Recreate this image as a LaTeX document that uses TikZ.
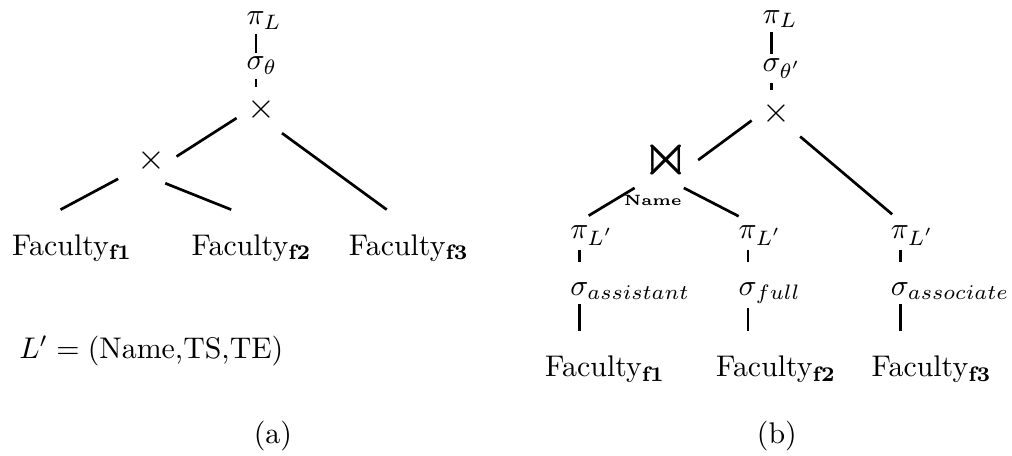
\documentclass[tikz,border=0pt]{standalone}
\usepackage{amssymb}
\usepackage{amsmath}
\usepackage{mathtools}
\usetikzlibrary{positioning,calc}

\tikzset{
    op/.style={inner sep=1pt, anchor=base},
    setop/.style={inner sep=3.33pt, font=\large},
    rel/.style={anchor=base, outer sep=5pt},
}

\begin{document}
\begin{tikzpicture}[line width=0.9pt]
    \useasboundingbox (0,0) rectangle (11.906,5.353);

    % Tree (a)
    \node[op] (piA) at (3.01,5.06) {$\pi_{\mathrlap{L}}$};
    \node[op] (sigA) at (3.01,4.53) {$\sigma_{\mathrlap{\theta}}$};
    \node[setop] (xA) at (3.08,4.06) {$\times$};
    \node[setop] (xB) at (1.78,3.47) {$\times$};
    \node[rel] (fA1) at (0.85,2.35) {Faculty$_{\mathbf{f1}}$};
    \node[rel] (fA2) at (2.96,2.35) {Faculty$_{\mathbf{f2}}$};
    \node[rel] (fA3) at (4.81,2.35) {Faculty$_{\mathbf{f3}}$};
    \draw (piA) -- (sigA);
    \draw (sigA) -- (sigA |- xA.north);
    \draw (xA.198) -- (xB.8);
    \draw (xA.-49) -- (fA3.120);
    \draw[shorten <=3pt] (xB.210) -- (fA1.107);
    \draw (xB.-59) -- (fA2.118);
    \node[anchor=base] (defL) at (1.78,1.14) {$L' = {}$(Name,TS,TE)};
    \node[anchor=base] (capA) at (3.21,0.14) {(a)};

    % Tree (b)
    \node[op] (piB) at (9.08,5.08) {$\pi_{\mathrlap{L}}$};
    \node[op] (sigB) at (9.08,4.51) {$\sigma_{\mathrlap{\theta'}}$};
    \node[setop] (xR) at (9.14,4.02) {$\times$};
    \node[inner sep=2pt, font=\huge] (join) at (7.84,3.47) {$\Join$};
    \node[font=\tiny\bfseries] (joinattr) at (7.68,2.99) {Name};
    \node[op] (pi1) at (6.82,2.55) {$\pi_{\mathrlap{L'}}$};
    \node[op] (pi2) at (8.80,2.55) {$\pi_{\mathrlap{L'}}$};
    \node[op] (pi3) at (10.59,2.55) {$\pi_{\mathrlap{L'}}$};
    \node[op] (sig1) at (6.82,1.88) {$\sigma_{\mathrlap{assistant}}$};
    \node[op] (sig2) at (8.80,1.88) {$\sigma_{\mathrlap{full}}$};
    \node[op] (sig3) at (10.59,1.88) {$\sigma_{\mathrlap{associate}}$};
    \node[rel] (fB1) at (7.12,0.92) {Faculty$_{\mathbf{f1}}$};
    \node[rel] (fB2) at (9.13,0.92) {Faculty$_{\mathbf{f2}}$};
    \node[rel] (fB3) at (10.96,0.92) {Faculty$_{\mathbf{f3}}$};
    \draw (piB) -- (sigB);
    \draw (sigB) -- (sigB |- xR.north);
    \draw (xR.196) -- (join.east);
    \draw[shorten >=3.5pt] (xR.-45) -- (pi3.north);
    \draw[shorten >=3.5pt] (join.south west) -- (pi1.north);
    \draw[shorten >=3.5pt] (join.-58) -- (pi2.north);
    \foreach \i in {1,2,3} {
        \draw[shorten >=5.5pt] (pi\i) -- (sig\i);
        \draw (sig\i) -- (sig\i |- fB\i.north);
    }
    \node[anchor=base] (capB) at (9.14,0.14) {(b)};
\end{tikzpicture}
\end{document}
